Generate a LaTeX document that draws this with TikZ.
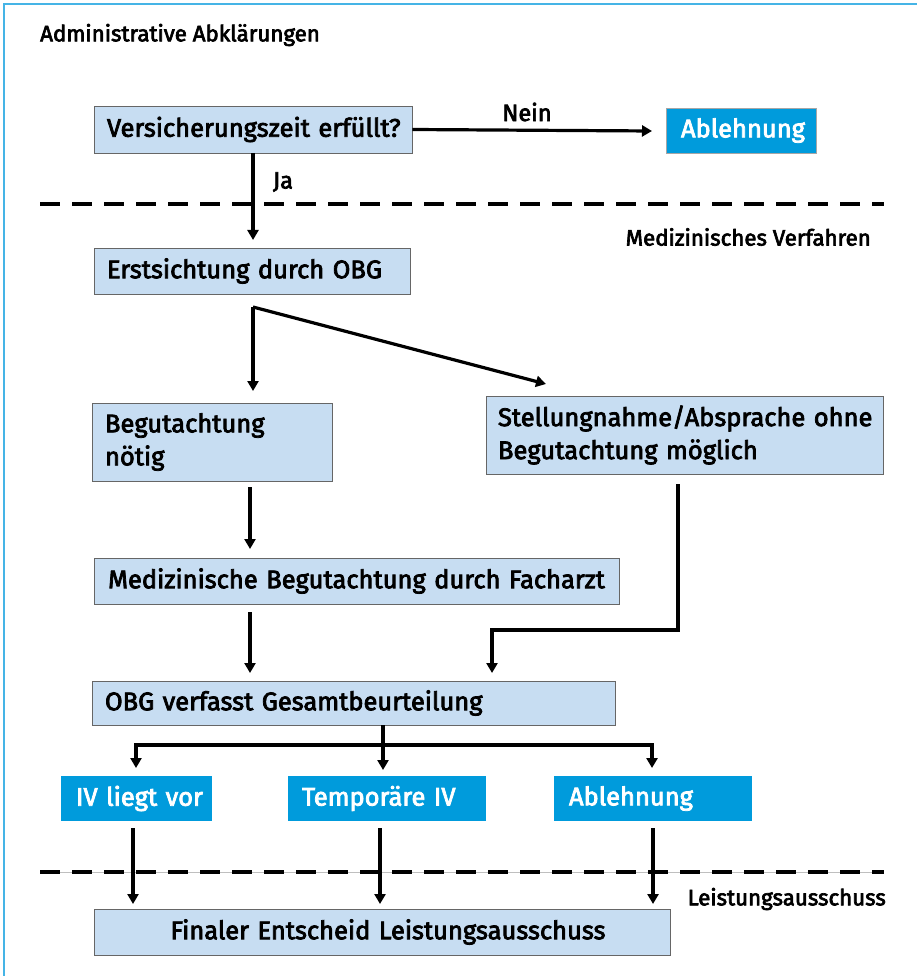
\documentclass[tikz,border=0pt]{standalone}
\usepackage{fontspec}
\setmainfont{Fira Sans}[FakeBold=3]
\newfontfamily\fsemi{Fira Sans}[FakeBold=3]
\usetikzlibrary{arrows.meta}
\definecolor{lightbox}{HTML}{C7DDF2}
\definecolor{darkbox}{HTML}{009BDC}
\definecolor{frameblue}{HTML}{45B4E6}
\begin{document}
\begin{tikzpicture}[x=1pt,y=-1pt,
  lbox/.style={draw=gray!80!black,line width=0.8pt,fill=lightbox,rectangle,inner xsep=13pt,inner ysep=0pt,font=\fsemi\fontsize{25.5}{33}\selectfont,anchor=center},
  dbox/.style={fill=darkbox,text=white,rectangle,inner xsep=15pt,inner ysep=0pt,font=\fsemi\fontsize{25.5}{33}\selectfont,anchor=center,draw=gray!70,line width=0.5pt},
  lbl/.style={font=\fsemi\fontsize{22.3}{24}\selectfont,inner sep=0pt},
  conn/.style={line width=3.2pt,-{Triangle[width=11pt,length=10pt]}},
  plain/.style={line width=3.2pt},
  sep/.style={line width=3.8pt,dash pattern=on 20pt off 12pt}
]
\useasboundingbox (0,0) rectangle (917,976);
% frame
\draw[frameblue,line width=1.2pt] (4,976) -- (4,4) -- (917,4);

% labels
\node[lbl,anchor=west] (adm) at (40,35) {Administrative Abklärungen};
\node[lbl,anchor=east] (med) at (871,237) {Medizinisches Verfahren};
\node[lbl,anchor=east] (leist) at (886,899) {Leistungsausschuss};

% separators
\draw[gray!50,line width=0.8pt] (40,872) -- (884,872);
\draw[sep] (40,204) -- (884,204);
\draw[sep] (40,872) -- (884,872);

% boxes
\node[lbox,minimum width=318pt,minimum height=47pt,text width=292pt,align=center] (b1) at (253,129.5) {\mbox{Versicherungszeit erfüllt?}};
\node[dbox,minimum width=150pt,minimum height=45pt,text width=120pt,align=center] (a1) at (741,130.5) {Ablehnung};
\node[lbox,minimum width=316pt,minimum height=46pt,text width=290pt,align=left] (b2) at (252,271) {\mbox{Erstsichtung durch OBG}};
\node[lbox,minimum width=240pt,minimum height=78pt,text width=214pt,align=left] (b3) at (212,442) {Begutachtung\\nötig};
\node[lbox,minimum width=397pt,minimum height=78pt,text width=381pt,inner xsep=8pt,align=left] (b4) at (684.5,435) {\hspace*{4pt}\mbox{Stellungnahme/Absprache ohne}\\\hspace*{4pt}\mbox{Begutachtung möglich}};
\node[lbox,minimum width=525pt,minimum height=46pt,text width=499pt,align=center] (b5) at (356.5,581) {\mbox{Medizinische Begutachtung durch Facharzt}};
\node[lbox,minimum width=523pt,minimum height=44pt,text width=497pt,align=left] (b6) at (353.5,703) {\mbox{OBG verfasst Gesamtbeurteilung}};
\node[dbox,minimum width=151pt,minimum height=45pt,text width=121pt,align=left,draw=none] (c1) at (136.5,798.5) {\mbox{IV liegt vor}};
\node[dbox,minimum width=198pt,minimum height=45pt,text width=170pt,inner xsep=14pt,align=left,draw=none] (c2) at (387,798.5) {\mbox{Temporäre IV}};
\node[dbox,minimum width=198pt,minimum height=45pt,text width=168pt,align=left,draw=none] (c3) at (653,798.5) {Ablehnung};
\node[lbox,minimum width=576pt,minimum height=46pt,text width=550pt,align=center] (b7) at (382,932) {\hspace*{12pt}\mbox{Finaler Entscheid Leistungsausschuss}};

% connectors
\draw[conn] (b1.east) -- (652,131) coordinate (nein);
\node[lbl,font=\fsemi\fontsize{23.5}{26}\selectfont] (neinl) at (527,112) {Nein};
\draw[conn] (b1.south) -- (253,240) coordinate (ja);
\node[lbl,font=\fsemi\fontsize{23.5}{26}\selectfont] (jal) at (283,182) {Ja};

\coordinate (s2) at (253,307);
\draw[conn] (s2) -- (253,391);
\draw[conn] (s2) -- (546,384);

\draw[conn] (250,487) -- (250,549);
\draw[conn] (250,612) -- (250,673);
\draw[conn] (678,484) -- (678,630) -- (492,630) -- (492,673);

\draw[plain] (383,725) -- (383,745);
\draw[conn] (383,745) -- (383,770);
\draw[conn] (134.4,745) -- (136,745) -- (136,768);
\draw[plain] (135,745) -- (652,745);
\draw[conn] (652,743.4) -- (652,768);

\draw[conn] (133,828) -- (133,904);
\draw[conn] (380,828) -- (380,904);
\draw[conn] (653,828) -- (653,904);
\end{tikzpicture}
\end{document}
